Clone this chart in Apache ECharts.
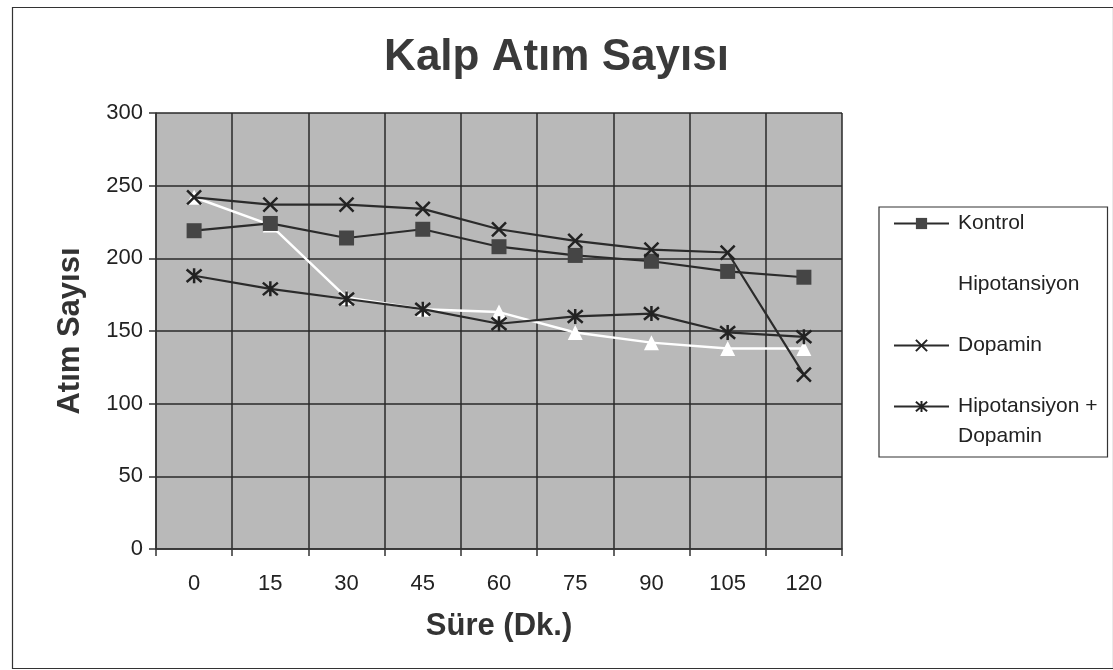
<!DOCTYPE html>
<html><head><meta charset="utf-8">
<script src="https://cdn.jsdelivr.net/npm/echarts@6/dist/echarts.min.js"></script>
<style>html,body{margin:0;padding:0;background:#fff}#c{width:1113px;height:670px}</style>
</head><body><div id="c"></div>
<script>
const categories = ['0','15','30','45','60','75','90','105','120'];
const kontrol = [219, 224, 214, 220, 208, 202, 198, 191, 187];
const hipotansiyon = [242, 223, 173, 165, 163, 149, 142, 138, 138];
const dopamin = [242, 237, 237, 234, 220, 212, 206, 204, 120];
const hipoDopamin = [188, 179, 172, 165, 155, 160, 162, 149, 146];
const yTicks = [0, 50, 100, 150, 200, 250, 300];
const seriesNames = ['Kontrol', 'Hipotansiyon', 'Dopamin', 'Hipotansiyon +\nDopamin'];

const X_PATH = 'path://M0 0L10 10M10 0L0 10';
const AST_PATH = 'path://M0 0L10 10M10 0L0 10M5 -1L5 11';
const font = 'Arial, "Liberation Sans", sans-serif';
const lastNameLines = seriesNames[3].split('\n');

const chart = echarts.init(document.getElementById('c'));
chart.setOption({
  animation: false,
  backgroundColor: '#fff',
  graphic: [{
    type: 'rect', left: 10, top: 5, shape: {width: 1101, height: 661},
    style: {fill: 'none', stroke: '#333', lineWidth: 1.2}, silent: true, z: -1
  }, {
    type: 'text', left: 958, top: 426, z: 10,
    style: {text: lastNameLines[1], fontFamily: font, fontSize: 21, fill: '#222'}
  }],
  title: {
    text: 'Kalp Atım Sayısı', left: 'center', top: 31,
    textStyle: {fontFamily: font, fontSize: 44, fontWeight: 'bold', color: '#3a3a3a'}
  },
  legend: {
    orient: 'vertical', left: 879, top: 207, itemGap: 32, itemWidth: 55, itemHeight: 14,
    backgroundColor: '#fff', borderColor: '#333', borderWidth: 1.2,
    padding: [2, 10, 36, 14],
    textStyle: {fontFamily: font, fontSize: 21, color: '#222', lineHeight: 29, padding: [0, 0, 0, 4]},
    formatter: name => name.split('\n')[0],
    data: seriesNames
  },
  grid: {left: 156, right: 271, top: 113, bottom: 121, show: true, backgroundColor: '#b9b9b9', borderWidth: 0},
  xAxis: {
    type: 'category', data: categories, boundaryGap: true,
    name: 'Süre (Dk.)', nameLocation: 'middle', nameGap: 62,
    nameTextStyle: {fontFamily: font, fontSize: 31, fontWeight: 'bold', color: '#333'},
    axisLine: {lineStyle: {color: '#333', width: 1.5}},
    axisTick: {show: true, length: 7, lineStyle: {color: '#333', width: 1.5}},
    axisLabel: {fontFamily: font, fontSize: 22, color: '#222', margin: 24},
    splitLine: {show: true, lineStyle: {color: '#2a2a2a', width: 1.5}}
  },
  yAxis: {
    type: 'value', min: 0, max: 300, interval: 50,
    name: 'Atım Sayısı', nameLocation: 'middle', nameGap: 70, nameRotate: 90,
    nameTextStyle: {fontFamily: font, fontSize: 31, fontWeight: 'bold', color: '#333'},
    axisLine: {show: true, lineStyle: {color: '#333', width: 1.5}},
    axisTick: {show: true, length: 7, lineStyle: {color: '#333', width: 1.5}},
    axisLabel: {fontFamily: font, fontSize: 22, color: '#222', margin: 13,
      formatter: v => yTicks.includes(v) ? String(v) : ''},
    splitLine: {show: true, lineStyle: {color: '#2a2a2a', width: 1.5}}
  },
  series: [
    {name: seriesNames[1], type: 'line', data: hipotansiyon, symbol: 'triangle', symbolSize: 15,
     lineStyle: {color: '#ffffff', width: 2.5}, itemStyle: {color: '#ffffff'}, z: 2},
    {name: seriesNames[0], type: 'line', data: kontrol, symbol: 'rect', symbolSize: 15,
     lineStyle: {color: '#2b2b2b', width: 2.2}, itemStyle: {color: '#454545'}, z: 3},
    {name: seriesNames[2], type: 'line', data: dopamin, symbol: X_PATH, symbolSize: 14,
     lineStyle: {color: '#2b2b2b', width: 2.2},
     itemStyle: {color: 'rgba(0,0,0,0)', borderColor: '#222', borderWidth: 2.5}, z: 3},
    {name: seriesNames[3], type: 'line', data: hipoDopamin, symbol: AST_PATH, symbolSize: 15,
     lineStyle: {color: '#2b2b2b', width: 2.2},
     itemStyle: {color: 'rgba(0,0,0,0)', borderColor: '#222', borderWidth: 2.5}, z: 3}
  ]
});
</script></body></html>
